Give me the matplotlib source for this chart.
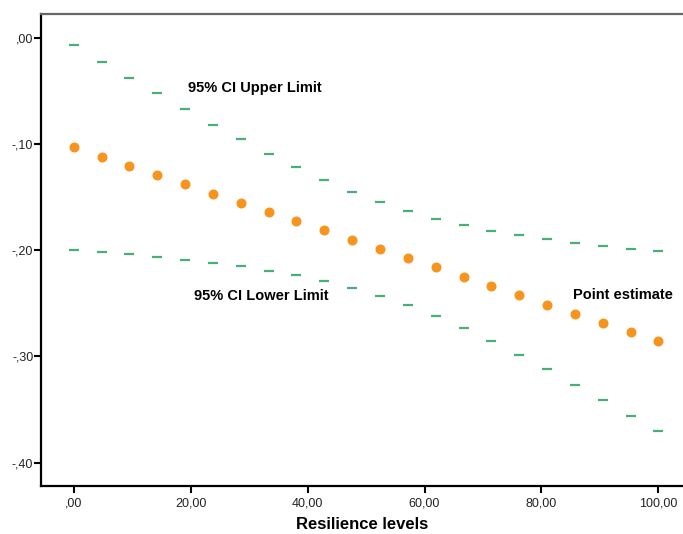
import numpy as np
import matplotlib
matplotlib.use("Agg")
import matplotlib.pyplot as plt
from matplotlib.ticker import FuncFormatter

# Values
resilience = np.linspace(0, 100, 22)

point_estimate = [-0.1032, -0.1121, -0.1208, -0.1296, -0.1380, -0.1469, -0.1554,
                  -0.1644, -0.1729, -0.1814, -0.1902, -0.1987, -0.2074, -0.2162,
                  -0.2250, -0.2338, -0.2426, -0.2514, -0.2599, -0.2686, -0.2771,
                  -0.2859]

ci_upper = [-0.0072, -0.0226, -0.0377, -0.0523, -0.0674, -0.0819, -0.0957,
            -0.1092, -0.1220, -0.1340, -0.1450, -0.1550, -0.1632, -0.1707,
            -0.1766, -0.1820, -0.1861, -0.1895, -0.1930, -0.1959, -0.1987,
            -0.2008]

ci_lower = [-0.1996, -0.2015, -0.2037, -0.2065, -0.2090, -0.2119, -0.2153,
            -0.2194, -0.2237, -0.2291, -0.2354, -0.2433, -0.2520, -0.2621,
            -0.2734, -0.2859, -0.2988, -0.3122, -0.3267, -0.3414, -0.3559,
            -0.3706]

x_ticks = [0, 20, 40, 60, 80, 100]
y_ticks = [0.0, -0.1, -0.2, -0.3, -0.4]

plt.rcParams['font.family'] = ['Liberation Sans', 'DejaVu Sans']

fig = plt.figure(figsize=(6.83, 5.34), dpi=100)
ax = fig.add_axes([0.060, 0.0899, 0.940, 0.884])

green = "#48b077"
ax.plot(resilience, ci_upper, linestyle="none", marker="_", markersize=7,
        markeredgewidth=1.6, color=green)
ax.plot(resilience, ci_lower, linestyle="none", marker="_", markersize=7,
        markeredgewidth=1.6, color=green)
ax.plot(resilience, point_estimate, linestyle="none", marker="o", markersize=6.2,
        color="#f7941d", markeredgecolor="#f7941d")

# Labels inside the plot
ax.text(19.5, -0.0474, "95% CI Upper Limit", fontsize=10.5, fontweight="bold",
        ha="left", va="center")
ax.text(20.6, -0.243, "95% CI Lower Limit", fontsize=10.5, fontweight="bold",
        ha="left", va="center")
ax.text(85.4, -0.242, "Point estimate", fontsize=10.5, fontweight="bold",
        ha="left", va="center")

ax.set_xlim(-5.6, 104.2)
ax.set_ylim(-0.422, 0.0223)

def comma_fmt(v, pos):
    s = f"{v:.2f}".replace(".", ",")
    s = s.replace("-0,", "-,").replace("0,", ",", 1) if abs(v) < 1 else s
    if s == "-,00":
        s = ",00"
    return s

ax.set_xticks(x_ticks)
ax.set_yticks(y_ticks)
ax.xaxis.set_major_formatter(FuncFormatter(comma_fmt))
ax.yaxis.set_major_formatter(FuncFormatter(comma_fmt))
ax.tick_params(axis="both", direction="out", length=5, width=1.5, labelsize=9,
               color="black", labelcolor="#222222")
ax.tick_params(axis="y", pad=0.5)

ax.spines["right"].set_visible(False)
ax.spines["top"].set_color("#666666")
ax.spines["top"].set_linewidth(1.6)
for s in ["left", "bottom"]:
    ax.spines[s].set_linewidth(1.6)
    ax.spines[s].set_color("black")

ax.set_xlabel("Resilience levels", fontsize=12, fontweight="bold", labelpad=5)

fig.savefig("out.png", dpi=100)
